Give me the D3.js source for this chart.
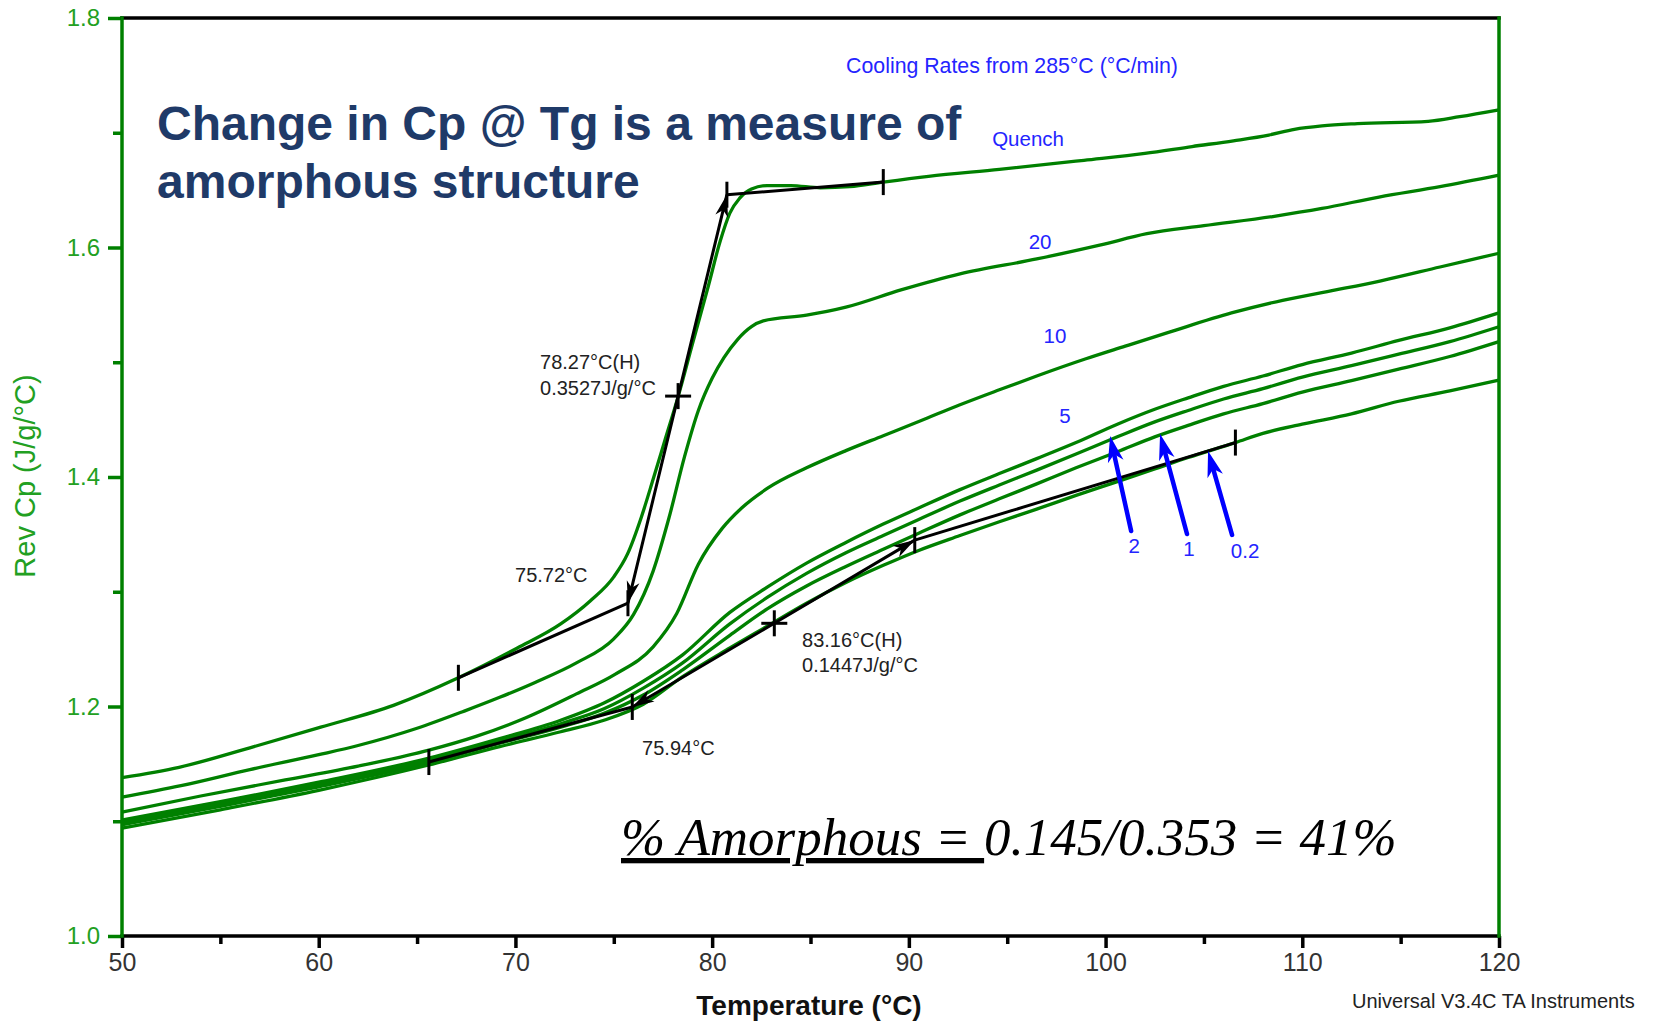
<!DOCTYPE html>
<html>
<head>
<meta charset="utf-8">
<script src="https://cdn.jsdelivr.net/npm/d3@7"></script>
<style>
  html, body { margin: 0; padding: 0; background: #fff; }
  svg { display: block; font-family: "Liberation Sans", Arial, sans-serif; }
</style>
</head>
<body>
<svg id="chart" width="1659" height="1024"></svg>
<script>
// ---- Reversing heat capacity curves, [temperature °C, Rev Cp J/g/°C] ----
const quench = [[50,1.138],[52.9,1.147],[56.5,1.164],[60.1,1.182],[63.8,1.201],[67.1,1.225],[70.1,1.251],[72.3,1.272],[73.8,1.292],[75.0,1.313],[75.7,1.333],[76.4,1.365],[77.0,1.398],[77.6,1.432],[78.27,1.470],[79.0,1.516],[79.8,1.566],[80.4,1.605],[80.9,1.630],[81.4,1.643],[82.0,1.651],[82.8,1.654],[84.0,1.654],[85.5,1.652],[87.0,1.653],[88.7,1.657],[91.0,1.662],[94.6,1.668],[98.9,1.676],[102,1.682],[104.4,1.688],[106.5,1.693],[108.3,1.698],[109.6,1.703],[111,1.706],[112.8,1.708],[116.4,1.710],[118,1.714],[120,1.720]];
const rate20 = [[50,1.121],[53,1.131],[56.5,1.145],[60,1.158],[62,1.166],[65,1.181],[67.4,1.196],[69.2,1.208],[71,1.221],[73.1,1.238],[75.0,1.259],[76.0,1.280],[77.0,1.318],[77.8,1.364],[78.6,1.418],[79.3,1.458],[80.0,1.486],[80.6,1.504],[81.3,1.520],[82.0,1.531],[82.6,1.536],[84.8,1.541],[86.8,1.548],[89.6,1.563],[92.6,1.577],[96.5,1.590],[99.7,1.602],[102.1,1.612],[105,1.619],[108.5,1.627],[111,1.634],[113.9,1.644],[117,1.653],[120,1.663]];
const rate10 = [[50,1.108],[54,1.122],[58.3,1.136],[62,1.148],[65.6,1.162],[68,1.174],[70.5,1.190],[73.1,1.211],[75.06,1.228],[77.0,1.252],[78.2,1.281],[79.3,1.324],[80.5,1.355],[81.5,1.373],[82.8,1.390],[84.8,1.408],[86.8,1.423],[88.7,1.436],[90.6,1.449],[92.6,1.463],[94.6,1.476],[96.5,1.488],[99,1.503],[101,1.514],[103.2,1.526],[106.4,1.543],[109,1.554],[111.7,1.563],[114,1.571],[117,1.583],[120,1.595]];
const rate5 = [[50,1.101],[55,1.117],[60,1.134],[65.6,1.155],[69.2,1.172],[72.3,1.188],[74.5,1.203],[76.5,1.222],[78.5,1.245],[80.9,1.282],[82.8,1.304],[84.8,1.325],[86.8,1.343],[88.7,1.359],[90.5,1.373],[92.6,1.389],[94.6,1.403],[96.5,1.416],[98.5,1.430],[100.6,1.446],[102.5,1.459],[104.2,1.469],[106,1.479],[108,1.488],[110,1.498],[112.5,1.508],[114.9,1.519],[117.5,1.530],[120,1.543]];
const rate2 = [[50,1.099],[55,1.115],[60,1.132],[65.6,1.153],[69.2,1.170],[72.3,1.185],[74.5,1.198],[76.5,1.216],[78.5,1.238],[80.9,1.272],[82.8,1.295],[84.8,1.316],[86.8,1.334],[88.7,1.349],[90.5,1.363],[92.6,1.379],[94.6,1.393],[96.5,1.406],[98.5,1.420],[100.6,1.435],[102.5,1.448],[104.2,1.458],[106,1.468],[108,1.477],[110,1.487],[112.5,1.497],[114.9,1.507],[117.5,1.518],[120,1.531]];
const rate1 = [[50,1.097],[55,1.113],[60,1.130],[65.6,1.151],[69.2,1.168],[72.3,1.182],[74.5,1.194],[76.5,1.210],[78.5,1.232],[80.9,1.262],[82.8,1.285],[84.8,1.305],[86.8,1.322],[88.7,1.337],[90.5,1.351],[92.6,1.367],[94.6,1.381],[96.5,1.394],[98.5,1.408],[100.6,1.422],[102.5,1.435],[104.2,1.445],[106,1.455],[108,1.464],[110,1.474],[112.5,1.484],[114.9,1.494],[117.5,1.505],[120,1.518]];
const rate02 = [[50,1.094],[55,1.110],[60,1.127],[65.6,1.149],[69.2,1.165],[72.3,1.178],[74.5,1.188],[76.5,1.202],[78.5,1.226],[80.9,1.251],[82.8,1.270],[84.8,1.290],[86.8,1.308],[88.7,1.323],[90.5,1.336],[92.6,1.349],[94.6,1.361],[96.5,1.372],[98.5,1.384],[100.6,1.396],[102.5,1.407],[104.2,1.417],[106.6,1.430],[108,1.438],[110,1.446],[112.5,1.455],[114.9,1.466],[117.5,1.475],[120,1.4845]];

const seriesNames = ["Quench", "20", "10", "5", "2", "1", "0.2"];
const seriesValues = [quench, rate20, rate10, rate5, rate2, rate1, rate02];

// ---- Axis ticks ----
const xMajorTicks = [50, 60, 70, 80, 90, 100, 110, 120];
const xMinorTicks = [55, 65, 75, 85, 95, 105, 115];
const yMajorTicks = [1.0, 1.2, 1.4, 1.6, 1.8];
const yMinorTicks = [1.1, 1.3, 1.5, 1.7];

// ---- Glass transition analyses (onset baseline, inflection tangent, end baseline) ----
const quenchOnsetBase = [[67.1,1.225],[75.72,1.290]];
const quenchTangent = [[75.72,1.290],[78.27,1.4705],[80.75,1.646]];
const quenchEndBase = [[80.75,1.646],[88.7,1.657]];
const slowOnsetBase = [[65.6,1.1516],[75.94,1.1996]];
const slowTangent = [[75.94,1.1996],[83.16,1.2725],[90.3,1.345]];
const slowEndBase = [[90.3,1.345],[106.6,1.430]];
const baseTicks = [[67.1,1.225],[75.72,1.290],[80.75,1.646],[88.7,1.657],[65.6,1.1516],[75.94,1.1996],[90.3,1.345],[106.6,1.430]];
const inflectionMarks = [[78.27,1.4705],[83.16,1.2725]];

// Result labels: [text, T, Cp]
const resultLabels = [
  ["78.27°C(H)", 71.25, 1.500],
  ["0.3527J/g/°C", 71.25, 1.4776],
  ["75.72°C", 69.98, 1.3146],
  ["83.16°C(H)", 84.57, 1.258],
  ["0.1447J/g/°C", 84.57, 1.2362],
  ["75.94°C", 76.44, 1.1638]
];

// Cooling-rate labels: [text, T, Cp]
const rateLabels = [
  ["Quench", 96.06, 1.6946],
  ["20", 96.67, 1.6048],
  ["10", 97.43, 1.5237],
  ["5", 97.94, 1.454]
];
// Pointer arrows for the slow rates: [label, tail T, tail Cp, tip T, tip Cp, label T, label Cp]
const rateArrows = [
  ["2", 101.30, 1.3529, 100.23, 1.4357, 101.45, 1.340],
  ["1", 104.14, 1.3503, 102.77, 1.4375, 104.24, 1.338],
  ["0.2", 106.43, 1.3495, 105.21, 1.4227, 107.09, 1.336]
];

const svg = d3.select("#chart");
const W = 1659, H = 1024;
const plotLeft = 122, plotRight = 1499, plotTop = 18, plotBottom = 936;

const x = d3.scaleLinear().domain([50, 120]).range([plotLeft, plotRight]);
const y = d3.scaleLinear().domain([1.0, 1.8]).range([plotBottom, plotTop]);

const GREEN = "#008000";
const LABEL_GREEN = "#22a022";
const BLUE = "#0000ff";
const TEXT_BLUE = "#2424ff";
const SANS = "'Liberation Sans', Arial, sans-serif";
const SERIF = "'Liberation Serif', 'Times New Roman', serif";

svg.append("rect").attr("width", W).attr("height", H).attr("fill", "#fff");

// ---- Heat capacity curves ----
const line = d3.line().x(d => x(d[0])).y(d => y(d[1])).curve(d3.curveMonotoneX);
svg.append("g").selectAll("path").data(seriesValues).join("path")
  .attr("d", line)
  .attr("fill", "none")
  .attr("stroke", GREEN)
  .attr("stroke-width", 3.3)
  .attr("stroke-linejoin", "round");

// ---- Analysis lines ----
const segLine = d3.line().x(d => x(d[0])).y(d => y(d[1]));
const gA = svg.append("g");
[quenchOnsetBase, quenchTangent, quenchEndBase, slowOnsetBase, slowTangent, slowEndBase].forEach(seg => {
  gA.append("path").attr("d", segLine(seg)).attr("fill", "none")
    .attr("stroke", "#000").attr("stroke-width", 3);
});
gA.selectAll("line.tick").data(baseTicks).join("line")
  .attr("x1", d => x(d[0])).attr("x2", d => x(d[0]))
  .attr("y1", d => y(d[1]) - 13).attr("y2", d => y(d[1]) + 13)
  .attr("stroke", "#000").attr("stroke-width", 3);
inflectionMarks.forEach(d => {
  const cx = x(d[0]), cy = y(d[1]);
  gA.append("line").attr("x1", cx - 13).attr("x2", cx + 13).attr("y1", cy).attr("y2", cy)
    .attr("stroke", "#000").attr("stroke-width", 3);
  gA.append("line").attr("x1", cx).attr("x2", cx).attr("y1", cy - 13).attr("y2", cy + 13)
    .attr("stroke", "#000").attr("stroke-width", 3);
});

function arrowHead(tip, from, len, half) {
  const dx = tip[0] - from[0], dy = tip[1] - from[1];
  const L = Math.hypot(dx, dy);
  const ux = dx / L, uy = dy / L, px = -uy, py = ux;
  const bx = tip[0] - ux * len, by = tip[1] - uy * len;
  const nx = tip[0] - ux * len * 0.72, ny = tip[1] - uy * len * 0.72;
  return `M${tip[0]},${tip[1]}L${bx + px * half},${by + py * half}L${nx},${ny}L${bx - px * half},${by - py * half}Z`;
}
function pt(d) { return [x(d[0]), y(d[1])]; }
// arrowheads at both ends of each inflection tangent
[[quenchTangent[0], quenchTangent[1]], [quenchTangent[2], quenchTangent[1]],
 [slowTangent[0], slowTangent[1]], [slowTangent[2], slowTangent[1]]].forEach(([tip, from]) => {
  gA.append("path").attr("d", arrowHead(pt(tip), pt(from), 22, 6.5)).attr("fill", "#000");
});

// ---- Result labels ----
svg.append("g").selectAll("text").data(resultLabels).join("text")
  .attr("x", d => x(d[1])).attr("y", d => y(d[2]))
  .attr("dominant-baseline", "central")
  .attr("font-size", 20).attr("fill", "#222")
  .text(d => d[0]);

// ---- Cooling-rate labels and pointers ----
svg.append("text").attr("x", x(86.81)).attr("y", y(1.758))
  .attr("dominant-baseline", "central")
  .attr("font-size", 21.3).attr("fill", TEXT_BLUE)
  .text("Cooling Rates from 285°C (°C/min)");
svg.append("g").selectAll("text").data(rateLabels).join("text")
  .attr("x", d => x(d[1])).attr("y", d => y(d[2]))
  .attr("text-anchor", "middle").attr("dominant-baseline", "central")
  .attr("font-size", 20.5).attr("fill", TEXT_BLUE)
  .text(d => d[0]);
const gB = svg.append("g");
rateArrows.forEach(a => {
  const tail = [x(a[1]), y(a[2])], tip = [x(a[3]), y(a[4])];
  const dx = tip[0] - tail[0], dy = tip[1] - tail[1], L = Math.hypot(dx, dy);
  const end = [tip[0] - dx / L * 16, tip[1] - dy / L * 16];
  gB.append("line").attr("x1", tail[0]).attr("y1", tail[1]).attr("x2", end[0]).attr("y2", end[1])
    .attr("stroke", BLUE).attr("stroke-width", 4.5).attr("stroke-linecap", "round");
  gB.append("path").attr("d", arrowHead(tip, tail, 26, 8)).attr("fill", BLUE);
  gB.append("text").attr("x", x(a[5])).attr("y", y(a[6]))
    .attr("text-anchor", "middle").attr("dominant-baseline", "central")
    .attr("font-size", 20.5).attr("fill", TEXT_BLUE).text(a[0]);
});

// ---- Axes ----
const yMajor = svg.append("g").attr("transform", `translate(${plotLeft},0)`)
  .call(d3.axisLeft(y).tickValues(yMajorTicks).tickSize(14).tickPadding(8).tickFormat(d3.format(".1f")));
const yMinor = svg.append("g").attr("transform", `translate(${plotLeft},0)`)
  .call(d3.axisLeft(y).tickValues(yMinorTicks).tickSize(9).tickFormat(""));
[yMajor, yMinor].forEach(g => {
  g.select(".domain").remove();
  g.selectAll(".tick line").attr("stroke", GREEN).attr("stroke-width", 3.5);
});
yMajor.attr("font-family", SANS).attr("font-size", 24);
yMajor.selectAll(".tick text").attr("fill", LABEL_GREEN);

const xMajor = svg.append("g").attr("transform", `translate(0,${plotBottom})`)
  .call(d3.axisBottom(x).tickValues(xMajorTicks).tickSize(12).tickPadding(5).tickFormat(d3.format("d")));
const xMinor = svg.append("g").attr("transform", `translate(0,${plotBottom})`)
  .call(d3.axisBottom(x).tickValues(xMinorTicks).tickSize(8).tickFormat(""));
[xMajor, xMinor].forEach(g => {
  g.select(".domain").remove();
  g.selectAll(".tick line").attr("stroke", "#000").attr("stroke-width", 3.5);
});
xMajor.attr("font-family", SANS).attr("font-size", 25);
xMajor.selectAll(".tick text").attr("fill", "#333");

// ---- Frame: black top and bottom, green sides ----
const frame = svg.append("g").attr("stroke-width", 3.5).attr("stroke-linecap", "square");
frame.append("line").attr("x1", plotLeft).attr("x2", plotRight).attr("y1", plotTop).attr("y2", plotTop).attr("stroke", "#000");
frame.append("line").attr("x1", plotLeft).attr("x2", plotRight).attr("y1", plotBottom).attr("y2", plotBottom).attr("stroke", "#000");
frame.append("line").attr("x1", plotLeft).attr("x2", plotLeft).attr("y1", plotTop).attr("y2", plotBottom).attr("stroke", GREEN);
frame.append("line").attr("x1", plotRight).attr("x2", plotRight).attr("y1", plotTop).attr("y2", plotBottom).attr("stroke", GREEN);

// ---- Axis titles ----
svg.append("text").attr("x", 809).attr("y", 1015).attr("text-anchor", "middle")
  .attr("font-size", 28).attr("font-weight", "bold").attr("fill", "#111")
  .text("Temperature (°C)");
svg.append("text").attr("transform", "translate(35,476) rotate(-90)").attr("text-anchor", "middle")
  .attr("font-size", 29).attr("fill", LABEL_GREEN)
  .text("Rev Cp (J/g/°C)");
svg.append("text").attr("x", 1352).attr("y", 1008)
  .attr("font-size", 20).attr("fill", "#222")
  .text("Universal V3.4C TA Instruments");

// ---- Headline ----
const head = svg.append("text").attr("font-size", 48).attr("font-weight", "bold").attr("fill", "#1f3a68");
head.append("tspan").attr("x", 157).attr("y", 140).text("Change in Cp @ Tg is a measure of");
head.append("tspan").attr("x", 157).attr("y", 198).text("amorphous structure");

// ---- Amorphous fraction ----
const formula = svg.append("text").attr("x", 621).attr("y", 855)
  .style("font-family", SERIF)
  .attr("font-style", "italic").attr("font-size", 53).attr("fill", "#000");
formula.append("tspan").attr("text-decoration", "underline").text("% Amorphous = ");
formula.append("tspan").text("0.145/0.353 = 41%");
</script>
</body>
</html>
